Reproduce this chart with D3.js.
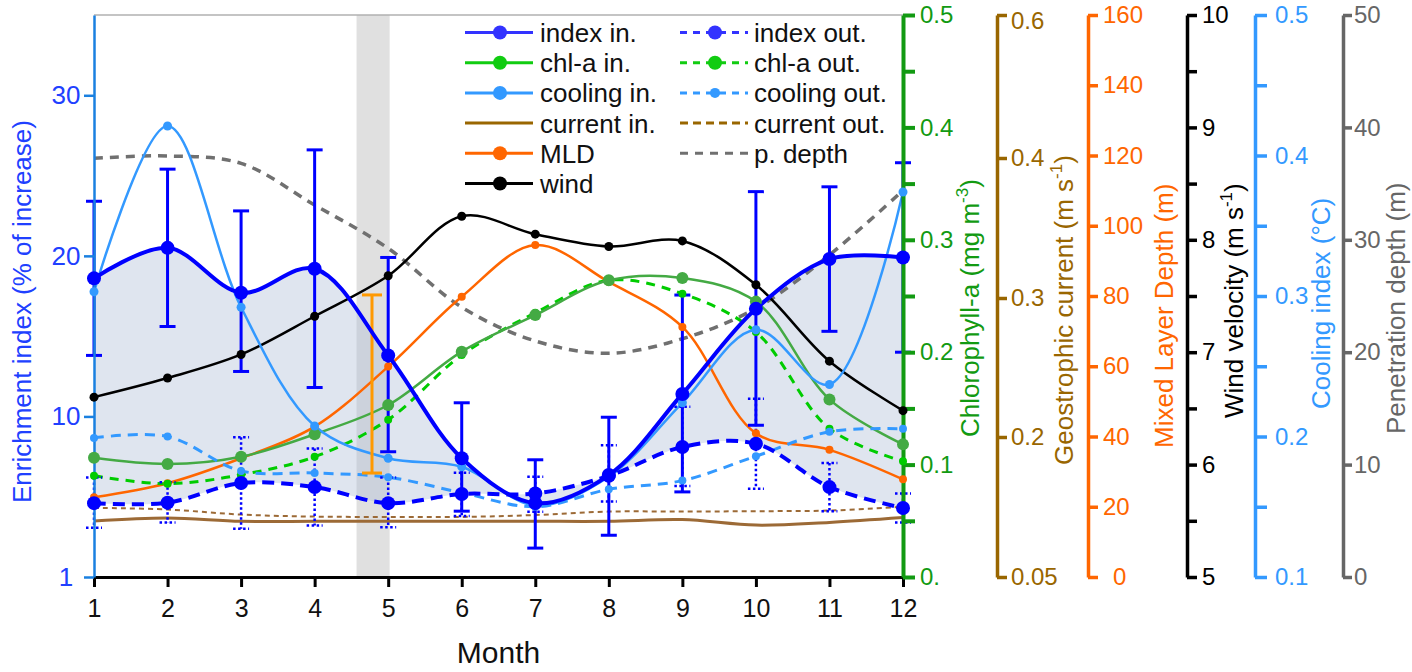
<!DOCTYPE html>
<html><head><meta charset="utf-8">
<script src="https://cdn.jsdelivr.net/npm/d3@7"></script>
<style>
body{margin:0;background:#fff}
svg{display:block}
text{font-family:"Liberation Sans",Arial,sans-serif}
</style>
</head><body>
<svg id="c" width="1412" height="672"></svg>
<script>
// ---------------- DATA ----------------
const months = [1,2,3,4,5,6,7,8,9,10,11,12];
const monthLabels = ["1","2","3","4","5","6","7","8","9","10","11","12"];

const indexIn   = [18.6, 20.5, 17.7, 19.2, 13.8, 7.4, 4.6, 6.35, 11.4, 16.7, 19.8, 19.9];
const indexInHi = [23.4, 25.4, 22.8, 26.6, 19.9, 10.85, 7.3, 9.95, 17.56, 24.0, 24.3, 25.8];
const indexInLo = [13.8, 15.6, 12.8, 11.8, 7.8, 4.1, 1.8, 2.6, 5.3, 9.45, 15.3, 14.0];

const indexOut   = [4.6, 4.63, 5.85, 5.6, 4.6, 5.17, 5.2, 6.3, 8.1, 8.3, 5.6, 4.3];
const indexOutHi = [6.2, 5.9, 8.7, 8.0, 6.2, 6.5, 6.25, 8.2, 10.6, 11.1, 7.1, 5.2];
const indexOutLo = [3.07, 3.4, 3.0, 3.2, 3.1, 3.8, 4.07, 4.7, 5.67, 5.5, 4.1, 3.4];

const chlIn  = [0.106, 0.1005, 0.107, 0.127, 0.153, 0.2005, 0.233, 0.264, 0.266, 0.245, 0.158, 0.118];
const chlOut = [0.090, 0.083, 0.091, 0.107, 0.140, 0.1975, 0.235, 0.264, 0.252, 0.218, 0.132, 0.103];

const coolingIn  = [0.303, 0.421, 0.292, 0.2075, 0.1845, 0.1785, 0.151, 0.1714, 0.224, 0.276, 0.237, 0.374];
const coolingOut = [0.199, 0.200, 0.1755, 0.174, 0.171, 0.160, 0.150, 0.1624, 0.1686, 0.186, 0.2034, 0.2055];

const currentIn  = [0.110, 0.1133, 0.1097, 0.1097, 0.1097, 0.1097, 0.1097, 0.1097, 0.1115, 0.1056, 0.1085, 0.1137];
const currentOut = [0.1241, 0.1223, 0.1169, 0.1147, 0.1144, 0.1144, 0.1164, 0.1201, 0.1201, 0.1205, 0.1212, 0.1252];

const mld  = [22.7, 26.7, 33.8, 42.8, 59.9, 79.8, 94.5, 84.0, 71.2, 40.9, 36.2, 27.8];
const wind = [6.60, 6.77, 6.98, 7.32, 7.68, 8.21, 8.05, 7.94, 7.99, 7.60, 6.92, 6.48];
const pDepth = [37.25, 37.46, 36.8, 33.1, 29.24, 24.0, 21.0, 19.9, 21.2, 23.9, 28.65, 34.4];

const bandMonths = [4.57, 5.02];          // grey shaded period
const mldBarMonth = 4.78;                 // orange range bar
const mldBarRange = [29.6, 80.3];

// tick values / labels
const idxTicks = [0, 10, 20, 30];
const idxTickLabels = ["1", "10", "20", "30"];
const chlTicks = [0,0.05,0.1,0.15,0.2,0.25,0.3,0.35,0.4,0.45,0.5];
const chlTickLabels = ["0.","","0.1","","0.2","","0.3","","0.4","","0.5"];
const curTicks = [0.05, 0.2, 0.3, 0.4, 0.6];
const curTickLabels = ["0.05","0.2","0.3","0.4","0.6"];
const mldTicks = [0,20,40,60,80,100,120,140,160];
const mldTickLabels = ["0","20","40","60","80","100","120","140","160"];
const windTicks = [5,5.5,6,6.5,7,7.5,8,8.5,9,9.5,10];
const windTickLabels = ["5","","6","","7","","8","","9","","10"];
const coolTicks = [0.1,0.15,0.2,0.25,0.3,0.35,0.4,0.45,0.5];
const coolTickLabels = ["0.1","","0.2","","0.3","","0.4","","0.5"];
const penTicks = [0,10,20,30,40,50];
const penTickLabels = ["0","10","20","30","40","50"];

// ---------------- SETUP ----------------
const svg = d3.select("#c");
const FONT = '"Liberation Sans",Arial,sans-serif';
const pTop = 15, pBottom = 577, pLeft = 94, pRight = 903;

const x = d3.scaleLinear().domain([1,12]).range([pLeft, pRight]);
const yIdx  = d3.scaleLinear().domain([0,35]).range([pBottom, pTop]);
const yChl  = d3.scaleLinear().domain([0,0.5]).range([pBottom, pTop]);
const yCur  = d3.scaleLinear().domain(curTicks).range([577, 437, 298, 158, 15]);
const yMld  = d3.scaleLinear().domain([0,160]).range([pBottom, pTop]);
const yWind = d3.scaleLinear().domain([5,10]).range([pBottom, pTop]);
const yCool = d3.scaleLinear().domain([0.1,0.5]).range([pBottom, pTop]);
const yPen  = d3.scaleLinear().domain([0,50]).range([pBottom, pTop]);

const C = {
  idx: "#0000ff", idxLeg: "#3333ff",
  chlIn: "#44aa44", chlOut: "#00cc00", chlLeg: "#11cc11",
  cool: "#3399ff",
  cur: "#9c6a36", curLeg: "#996600",
  mld: "#ff6600", wind: "#000000", pen: "#707070",
  chlAxis: "#129a12", curAxis: "#996600", penAxis: "#666666",
  leftAxis: "#1a80e0", leftText: "#2040ff", orange: "#ff9900"
};

const curve = d3.curveCatmullRom;
function linePath(vals, scale) {
  return d3.line().x((d,i)=>x(months[i])).y(d=>scale(d)).curve(curve)(vals);
}
function drawLine(vals, scale, color, w, dash) {
  svg.append("path").attr("d", linePath(vals, scale)).attr("fill","none")
    .attr("stroke", color).attr("stroke-width", w)
    .attr("stroke-dasharray", dash || null);
}
function drawDots(vals, scale, color, r) {
  svg.append("g").selectAll("circle").data(vals).join("circle")
    .attr("cx",(d,i)=>x(months[i])).attr("cy",d=>scale(d)).attr("r",r).attr("fill",color);
}
function drawErr(hi, lo, scale, color, w, dash, cap) {
  const g = svg.append("g").attr("stroke", color).attr("stroke-width", w)
    .attr("stroke-dasharray", dash || null);
  months.forEach((m,i)=>{
    const xx = x(m);
    g.append("line").attr("x1",xx).attr("x2",xx).attr("y1",scale(hi[i])).attr("y2",scale(lo[i]));
    g.append("line").attr("x1",xx-cap).attr("x2",xx+cap).attr("y1",scale(hi[i])).attr("y2",scale(hi[i]));
    g.append("line").attr("x1",xx-cap).attr("x2",xx+cap).attr("y1",scale(lo[i])).attr("y2",scale(lo[i]));
  });
}

// ---------------- BACKGROUND ----------------
svg.append("rect").attr("x", x(bandMonths[0])).attr("y", pTop)
  .attr("width", x(bandMonths[1]) - x(bandMonths[0])).attr("height", pBottom - pTop)
  .attr("fill", "#e0e0e0");
svg.append("line").attr("x1", pLeft).attr("x2", pRight).attr("y1", pTop).attr("y2", pTop)
  .attr("stroke", "#b0b0b0").attr("stroke-width", 1.5);

svg.append("path")
  .attr("d", d3.area().x((d,i)=>x(months[i])).y0((d,i)=>yIdx(indexOut[i])).y1(d=>yIdx(d)).curve(curve)(indexIn))
  .attr("fill", "#aebfd8").attr("fill-opacity", 0.4);

// ---------------- LINES ----------------
drawLine(currentOut, yCur, C.cur, 2, "5,4");
drawLine(currentIn, yCur, C.cur, 3);
drawLine(pDepth, yPen, C.pen, 3.5, "9,7");
drawLine(mld, yMld, C.mld, 2.5);
drawLine(wind, yWind, C.wind, 2.5);
drawLine(chlOut, yChl, C.chlOut, 3, "9,7");
drawLine(chlIn, yChl, C.chlIn, 2.5);
drawLine(coolingOut, yCool, C.cool, 3, "10,7");
drawLine(coolingIn, yCool, C.cool, 2.5);

drawErr(indexOutHi, indexOutLo, yIdx, C.idx, 2.5, "2.5,2.5", 8);
drawErr(indexInHi, indexInLo, yIdx, C.idx, 3, null, 8);

// orange MLD range bar
{
  const g = svg.append("g").attr("stroke", C.orange).attr("stroke-width", 3);
  const xx = x(mldBarMonth);
  g.append("line").attr("x1",xx).attr("x2",xx).attr("y1",yMld(mldBarRange[1])).attr("y2",yMld(mldBarRange[0]));
  [0,1].forEach(k=>g.append("line").attr("x1",xx-10).attr("x2",xx+10)
    .attr("y1",yMld(mldBarRange[k])).attr("y2",yMld(mldBarRange[k])));
}

drawLine(indexOut, yIdx, C.idx, 4, "12,7");
drawLine(indexIn, yIdx, C.idx, 4);

// ---------------- AXES ----------------
function styleAxis(g, color, w, fs, textColor) {
  g.attr("font-family", FONT);
  g.select(".domain").attr("stroke", color).attr("stroke-width", w);
  g.selectAll(".tick line").attr("stroke", color).attr("stroke-width", w);
  g.selectAll(".tick text").attr("fill", textColor || color).style("font-size", fs + "px");
}
// x axis
{
  const g = svg.append("g").attr("transform", `translate(0,${pBottom})`)
    .call(d3.axisBottom(x).tickValues(months).tickFormat((d,i)=>monthLabels[i])
      .tickSize(10).tickSizeOuter(0).tickPadding(12));
  styleAxis(g, "#000", 3, 25, "#111");
}
// left axis
{
  const g = svg.append("g").attr("transform", `translate(${pLeft},0)`)
    .call(d3.axisLeft(yIdx).tickValues(idxTicks).tickFormat((d,i)=>idxTickLabels[i])
      .tickSize(10).tickSizeOuter(0).tickPadding(0));
  styleAxis(g, C.leftAxis, 2.5, 26, C.leftText);
  g.selectAll(".tick text").attr("text-anchor","middle").attr("x", 66 - pLeft);
}
function rightAxis(xPos, scale, ticks, labels, color, tick, pad, w, fs) {
  const g = svg.append("g").attr("transform", `translate(${xPos},0)`)
    .call(d3.axisRight(scale).tickValues(ticks).tickFormat((d,i)=>labels[i])
      .tickSize(tick).tickSizeOuter(0).tickPadding(pad));
  styleAxis(g, color, w, fs);
  return g;
}
rightAxis(903, yChl, chlTicks, chlTickLabels, C.chlAxis, 12, 5, 4, 24);
const curAx = rightAxis(997, yCur, curTicks, curTickLabels, C.curAxis, 10, 4, 3.5, 24);
curAx.selectAll(".tick text").filter(d=>d===curTicks[curTicks.length-1]).attr("y", 6);
const mldAx = rightAxis(1088, yMld, mldTicks, mldTickLabels, C.mld, 10, 5, 3.5, 24);
mldAx.selectAll(".tick text").filter(d=>d===0).attr("x", 25);
rightAxis(1187, yWind, windTicks, windTickLabels, "#000", 10, 5, 3.5, 24);
rightAxis(1255, yCool, coolTicks, coolTickLabels, C.cool, 12, 8, 3.5, 24);
rightAxis(1343, yPen, penTicks, penTickLabels, C.penAxis, 9, 2, 3.5, 24);

// axis titles
function vTitle(bx, by, color, parts) {
  const t = svg.append("text").attr("transform", `translate(${bx},${by}) rotate(-90)`)
    .attr("fill", color).style("font-size", "26px").attr("font-family", FONT);
  parts.forEach(p => {
    const s = t.append("tspan").text(p.t);
    if (p.sup) s.attr("dy", -11).style("font-size", "17px");
    if (p.after) s.attr("dy", 11);
  });
}
vTitle(31, 503, C.leftText, [{t:"Enrichment index (% of increase)"}]);
vTitle(979, 437, C.chlAxis, [{t:"Chlorophyll-a (mg m"},{t:"-3",sup:1},{t:")",after:1}]);
vTitle(1073, 465, C.curAxis, [{t:"Geostrophic current (m s"},{t:"-1",sup:1},{t:")",after:1}]);
vTitle(1173, 448, C.mld, [{t:"Mixed Layer Depth (m)"}]);
vTitle(1243, 418, "#000", [{t:"Wind velocity (m s"},{t:"-1",sup:1},{t:")",after:1}]);
vTitle(1330, 409, C.cool, [{t:"Cooling index (°C)"}]);
vTitle(1405, 434, C.penAxis, [{t:"Penetration depth (m)"}]);

svg.append("text").attr("x", (pLeft+pRight)/2).attr("y", 663).attr("text-anchor","middle")
  .attr("fill","#111").style("font-size","30px").attr("font-family", FONT).text("Month");

// ---------------- DOTS ----------------
drawDots(mld, yMld, C.mld, 4);
drawDots(wind, yWind, C.wind, 4.5);
drawDots(chlOut, yChl, C.chlOut, 4);
drawDots(chlIn, yChl, C.chlIn, 6);
drawDots(coolingOut, yCool, C.cool, 4);
drawDots(coolingIn, yCool, C.cool, 4.5);
drawDots(indexOut, yIdx, C.idx, 7);
drawDots(indexIn, yIdx, C.idx, 7);

// ---------------- LEGEND ----------------
const legendItems = [
  {col:0,row:0,label:"index in.",color:C.idxLeg,dash:null,r:7},
  {col:1,row:0,label:"index out.",color:C.idxLeg,dash:"7,6",r:7},
  {col:0,row:1,label:"chl-a in.",color:C.chlLeg,dash:null,r:7},
  {col:1,row:1,label:"chl-a out.",color:C.chlLeg,dash:"7,6",r:7},
  {col:0,row:2,label:"cooling in.",color:C.cool,dash:null,r:7},
  {col:1,row:2,label:"cooling out.",color:C.cool,dash:"7,6",r:5},
  {col:0,row:3,label:"current in.",color:C.curLeg,dash:null,r:0},
  {col:1,row:3,label:"current out.",color:C.curLeg,dash:"8,5",r:0},
  {col:0,row:4,label:"MLD",color:C.mld,dash:null,r:7},
  {col:1,row:4,label:"p. depth",color:C.pen,dash:"8,7",r:0},
  {col:0,row:5,label:"wind",color:"#000",dash:null,r:7}
];
const lg = svg.append("g");
legendItems.forEach(it=>{
  const x0 = it.col ? 680 : 465, y0 = 32.5 + it.row*30.2;
  lg.append("line").attr("x1",x0).attr("x2",x0+68).attr("y1",y0).attr("y2",y0)
    .attr("stroke",it.color).attr("stroke-width",3).attr("stroke-dasharray",it.dash);
  if (it.r) lg.append("circle").attr("cx",x0+35).attr("cy",y0).attr("r",it.r).attr("fill",it.color);
  lg.append("text").attr("x",x0+(it.col?74:75)).attr("y",y0+9.5).attr("fill","#111")
    .style("font-size","26px").attr("font-family",FONT).text(it.label);
});
</script>
</body></html>
